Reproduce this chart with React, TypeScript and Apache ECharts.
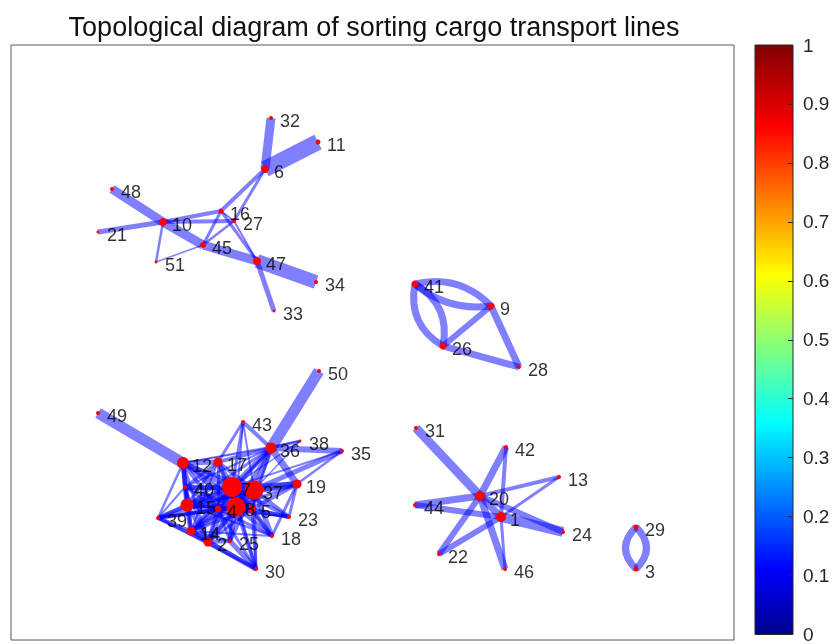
import React, { useEffect, useRef } from 'react';
import * as echarts from 'echarts';

const TITLE = 'Topological diagram of sorting cargo transport lines';

// Layout coordinates of nodes 1..51 (index = node id - 1)
const nodeX = [
  501, 208, 636, 218, 252, 265, 232, 236, 491, 163,
  318, 183, 559, 191, 187, 221, 218, 272, 297, 480,
  98, 439, 289, 563, 230, 443, 234, 519, 636, 256,
  416, 271, 274, 316, 342, 271, 254, 300, 158, 185,
  415, 506, 243, 415, 203, 505, 257, 112, 98, 319,
  156,
];
const nodeY = [
  517, 542, 569, 509, 509, 169, 487, 507, 306, 222,
  142, 463, 477, 531, 505, 211, 462, 536, 484, 496,
  232, 554, 517, 532, 541, 346, 221, 367, 527, 569,
  428, 118, 311, 282, 451, 448, 490, 441, 518, 487,
  284, 447, 422, 505, 245, 569, 261, 189, 413, 371,
  262,
];
// Marker diameter per node
const nodeSize = [
  10, 9, 5, 7, 8, 8, 20, 19, 7, 8,
  5, 12, 4, 9, 13, 5, 9, 4, 9, 10,
  3, 4, 4, 4, 4, 7, 4, 4, 5, 4,
  4, 4, 3, 4, 4, 11, 19, 3, 4, 4,
  7, 4, 4, 4, 6, 4, 8, 4, 4, 4,
  3,
];

// Straight transport lines: [from, to, line weight]
const straightLines: [number, number, number][] = [
  // north-west group
  [6, 11, 16], [6, 32, 9], [48, 10, 9], [10, 45, 9], [45, 47, 9], [47, 34, 14],
  [21, 10, 5], [10, 16, 4], [10, 27, 4], [10, 51, 2.5], [51, 45, 1.5], [45, 16, 3],
  [45, 27, 2.5], [16, 6, 4], [27, 6, 3], [16, 47, 3], [27, 47, 2], [47, 33, 5],
  [16, 27, 2],
  // 41 / 9 / 26 / 28 group
  [9, 26, 6], [9, 28, 7], [26, 28, 7],
  // 20 / 1 group
  [31, 20, 9], [20, 1, 7], [20, 42, 7], [42, 1, 4], [20, 46, 7], [1, 46, 3],
  [20, 13, 4], [1, 13, 3], [44, 20, 7], [44, 1, 6], [20, 24, 6], [1, 24, 10],
  [22, 20, 6], [22, 1, 6],
  // dense south-west group
  [49, 12, 11], [50, 36, 11], [36, 19, 7], [36, 35, 6], [35, 19, 2.5], [35, 37, 5],
  [38, 36, 3], [38, 7, 1.5], [38, 37, 1.5], [12, 38, 1.5], [12, 36, 1.5], [43, 36, 4],
  [43, 7, 3], [43, 17, 3], [43, 37, 2], [43, 8, 2],
  [12, 17, 5], [12, 7, 6], [12, 37, 4], [12, 40, 4], [12, 15, 5], [12, 39, 2.5],
  [12, 14, 4], [12, 4, 4], [12, 8, 4], [12, 2, 3], [12, 5, 3],
  [17, 7, 5], [17, 37, 4], [17, 8, 4], [17, 15, 3], [17, 4, 3], [17, 40, 3], [17, 14, 2],
  [7, 37, 7], [7, 8, 7], [7, 4, 6], [7, 40, 5], [7, 15, 6], [7, 14, 5], [7, 2, 5],
  [7, 36, 5], [7, 19, 5], [7, 5, 5], [7, 39, 4], [7, 23, 4], [7, 18, 4], [7, 25, 4],
  [7, 30, 3], [7, 35, 2],
  [37, 8, 6], [37, 19, 7], [37, 36, 6], [37, 5, 5], [37, 15, 5], [37, 14, 4],
  [37, 2, 4], [37, 23, 4], [37, 18, 5], [37, 25, 4], [37, 40, 4], [37, 39, 3], [37, 30, 3],
  [8, 15, 5], [8, 14, 5], [8, 2, 5], [8, 4, 5], [8, 5, 5], [8, 23, 4], [8, 18, 4],
  [8, 25, 5], [8, 30, 4], [8, 39, 4], [8, 36, 4], [8, 40, 3], [8, 19, 3],
  [15, 40, 4], [15, 39, 4], [15, 14, 5], [15, 2, 4], [15, 4, 5], [15, 5, 3], [15, 19, 3],
  [15, 23, 2], [15, 18, 2],
  [39, 14, 4], [39, 2, 4], [39, 40, 2], [39, 8, 3], [39, 30, 2], [39, 4, 3],
  [14, 2, 5], [14, 30, 4], [14, 4, 4], [14, 5, 3], [14, 25, 3], [14, 18, 2],
  [2, 30, 5], [2, 25, 4], [2, 4, 4], [2, 5, 3], [25, 30, 5], [25, 4, 3],
  [5, 23, 4], [5, 18, 4], [4, 30, 3], [4, 40, 3], [4, 18, 3], [4, 23, 2],
  [36, 17, 4], [36, 40, 2], [36, 15, 3], [36, 14, 2], [36, 4, 3], [36, 5, 3],
  [19, 5, 4], [19, 23, 3], [19, 18, 3], [30, 5, 3], [40, 2, 2], [40, 14, 2],
];

// Two-way lines drawn as arcs: [from, to, line weight, curveness]
const arcLines: [number, number, number, number][] = [
  [41, 9, 7, 0.28], [41, 9, 7, -0.22],
  [41, 26, 7, 0.35], [41, 26, 7, -0.35],
  [29, 3, 7, 0.5], [29, 3, 7, -0.5],
];

// Jet colour map stops for the colour bar
const jetOffsets = [0, 0.11, 0.36, 0.61, 0.86, 1];
const jetColors = ['#00008f', '#0000ff', '#00ffff', '#ffff00', '#ff0000', '#800000'];

export default function App() {
  const ref = useRef<HTMLDivElement>(null);

  useEffect(() => {
    const chart = echarts.init(ref.current!, null, { renderer: 'svg' });

    const data = nodeX.map((x, i) => ({
      name: String(i + 1),
      value: [x, nodeY[i]],
      symbolSize: nodeSize[i],
    }));
    const labelPoints = nodeX.map((x, i) => ({
      name: String(i + 1),
      value: [x, nodeY[i]],
    }));
    const links = [
      ...straightLines.map(([s, t, w]) => ({
        source: s - 1,
        target: t - 1,
        lineStyle: { width: w, curveness: 0 },
      })),
      ...arcLines.map(([s, t, w, c]) => ({
        source: s - 1,
        target: t - 1,
        lineStyle: { width: w, curveness: c },
      })),
    ];

    chart.setOption({
      animation: false,
      graphic: [
        {
          type: 'text',
          x: 374,
          y: 27,
          style: {
            text: TITLE,
            font: '27px "Liberation Sans", Arial, sans-serif',
            fill: '#111',
            align: 'center',
            verticalAlign: 'middle',
          },
        },
      ],
      grid: [
        {
          left: 11, top: 45, width: 723, height: 595,
          show: true, borderColor: '#595959', borderWidth: 1, backgroundColor: '#ffffff',
        },
        {
          left: 755, top: 45, width: 38, height: 595,
          show: true, borderColor: '#262626', borderWidth: 1, z: 10,
        },
      ],
      xAxis: [
        { gridIndex: 0, type: 'value', min: 11, max: 734, show: false },
        { gridIndex: 1, type: 'category', data: ['c'], show: false },
      ],
      yAxis: [
        { gridIndex: 0, type: 'value', min: 45, max: 640, inverse: true, show: false },
        {
          gridIndex: 1, type: 'value', min: 0, max: 1, interval: 0.1, position: 'right', z: 10,
          axisLine: { show: false },
          axisTick: { show: true, inside: true, length: 5, lineStyle: { color: '#262626' } },
          axisLabel: { color: '#262626', fontSize: 19, margin: 10, fontFamily: 'Liberation Sans' },
          splitLine: { show: false },
        },
      ],
      series: [
        {
          type: 'bar',
          xAxisIndex: 1,
          yAxisIndex: 1,
          data: [1],
          barWidth: '100%',
          silent: true,
          itemStyle: {
            color: new echarts.graphic.LinearGradient(
              0, 1, 0, 0,
              jetOffsets.map((o, i) => ({ offset: o, color: jetColors[i] })),
            ),
          },
        },
        {
          type: 'graph',
          layout: 'none',
          coordinateSystem: 'cartesian2d',
          xAxisIndex: 0,
          yAxisIndex: 0,
          data,
          links,
          symbol: 'circle',
          silent: true,
          z: 2,
          emphasis: { disabled: true },
          itemStyle: { color: '#ff0000' },
          lineStyle: { color: '#0000ff', opacity: 0.5, width: 1 },
          label: { show: false },
        },
        {
          // node names drawn above every node
          type: 'scatter',
          xAxisIndex: 0,
          yAxisIndex: 0,
          data: labelPoints,
          symbolSize: 1,
          silent: true,
          z: 5,
          itemStyle: { color: 'rgba(0,0,0,0)' },
          label: {
            show: true,
            formatter: '{b}',
            position: 'inside',
            align: 'left',
            verticalAlign: 'middle',
            offset: [9, 3],
            fontSize: 18,
            color: '#000',
            fontFamily: 'Liberation Sans',
          },
        },
      ],
    });

    return () => chart.dispose();
  }, []);

  return (
    <div
      ref={ref}
      style={{ position: 'fixed', left: 0, top: 0, width: 835, height: 644 }}
    />
  );
}
